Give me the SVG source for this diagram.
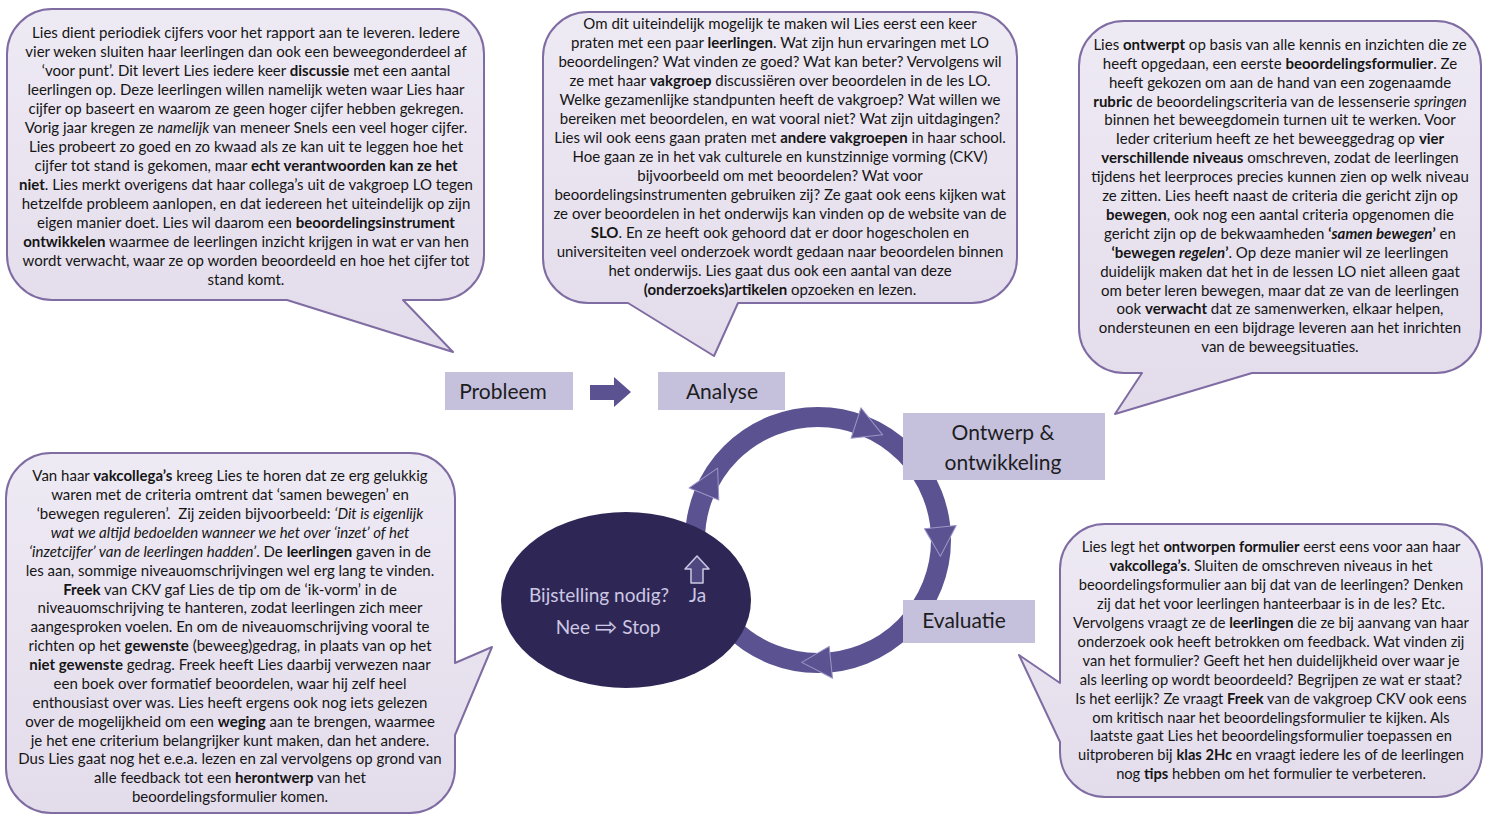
<svg xmlns="http://www.w3.org/2000/svg" width="1486" height="820" viewBox="0 0 1486 820">
<defs>
<linearGradient id="bub" x1="0" y1="0" x2="0" y2="1">
<stop offset="0" stop-color="#eeeaf4"/>
<stop offset="1" stop-color="#e3dceb"/>
</linearGradient>
<path id="head" d="M925,540 L957,540 L938,569 Z"/>
</defs>
<style>
.bubble{fill:url(#bub);stroke:#7f6ca2;stroke-width:2;stroke-linejoin:round}
.bt{font-family:Lato,"Liberation Sans",sans-serif;font-size:15px;fill:#151515;text-anchor:middle}
.b{font-weight:bold}
.i{font-style:italic}
.box{fill:#c5c1dd}
.lbl{font-family:Lato,"Liberation Sans",sans-serif;font-size:21px;fill:#1d1d1d;text-anchor:middle}
.ring{fill:none;stroke:#5b5391;stroke-width:20}
.hd{fill:#5b5391;stroke:#9d96c8;stroke-width:1;stroke-linejoin:round}
.et{font-family:Lato,"Liberation Sans",sans-serif;font-size:19px;fill:#cdc7e4}
</style>
<rect width="1486" height="820" fill="#ffffff"/>

<g id="bubble-probleem">
<path class="bubble" d="M52,9 H439 A45,45 0 0 1 484,54 V255 A45,45 0 0 1 439,300 H403 L453,352 L287,300 H52 A45,45 0 0 1 7,255 V54 A45,45 0 0 1 52,9 Z"/>
<text class="bt" x="246" y="38">Lies dient periodiek cijfers voor het rapport aan te leveren. Iedere</text>
<text class="bt" x="246" y="57">vier weken sluiten haar leerlingen dan ook een beweegonderdeel af</text>
<text class="bt" x="246" y="76">‘voor punt’. Dit levert Lies iedere keer <tspan class="b">discussie</tspan> met een aantal</text>
<text class="bt" x="246" y="95">leerlingen op. Deze leerlingen willen namelijk weten waar Lies haar</text>
<text class="bt" x="246" y="114">cijfer op baseert en waarom ze geen hoger cijfer hebben gekregen.</text>
<text class="bt" x="246" y="133">Vorig jaar kregen ze <tspan class="i">namelijk</tspan> van meneer Snels een veel hoger cijfer.</text>
<text class="bt" x="246" y="152">Lies probeert zo goed en zo kwaad als ze kan uit te leggen hoe het</text>
<text class="bt" x="246" y="171">cijfer tot stand is gekomen, maar <tspan class="b">echt verantwoorden kan ze het</tspan></text>
<text class="bt" x="246" y="190"><tspan class="b">niet</tspan>. Lies merkt overigens dat haar collega’s uit de vakgroep LO tegen</text>
<text class="bt" x="246" y="209">hetzelfde probleem aanlopen, en dat iedereen het uiteindelijk op zijn</text>
<text class="bt" x="246" y="228">eigen manier doet. Lies wil daarom een <tspan class="b">beoordelingsinstrument</tspan></text>
<text class="bt" x="246" y="247"><tspan class="b">ontwikkelen</tspan> waarmee de leerlingen inzicht krijgen in wat er van hen</text>
<text class="bt" x="246" y="266">wordt verwacht, waar ze op worden beoordeeld en hoe het cijfer tot</text>
<text class="bt" x="246" y="285">stand komt.</text>
</g>

<g id="bubble-analyse">
<path class="bubble" d="M588,12 H972 A45,45 0 0 1 1017,57 V258 A45,45 0 0 1 972,303 H738 L714,356 L628,303 H588 A45,45 0 0 1 543,258 V57 A45,45 0 0 1 588,12 Z"/>
<text class="bt" x="780" y="29">Om dit uiteindelijk mogelijk te maken wil Lies eerst een keer</text>
<text class="bt" x="780" y="48">praten met een paar <tspan class="b">leerlingen</tspan>. Wat zijn hun ervaringen met LO</text>
<text class="bt" x="780" y="67">beoordelingen? Wat vinden ze goed? Wat kan beter? Vervolgens wil</text>
<text class="bt" x="780" y="86">ze met haar <tspan class="b">vakgroep</tspan> discussiëren over beoordelen in de les LO.</text>
<text class="bt" x="780" y="105">Welke gezamenlijke standpunten heeft de vakgroep? Wat willen we</text>
<text class="bt" x="780" y="124">bereiken met beoordelen, en wat vooral niet? Wat zijn uitdagingen?</text>
<text class="bt" x="780" y="143">Lies wil ook eens gaan praten met <tspan class="b">andere vakgroepen</tspan> in haar school.</text>
<text class="bt" x="780" y="162">Hoe gaan ze in het vak culturele en kunstzinnige vorming (CKV)</text>
<text class="bt" x="780" y="181">bijvoorbeeld om met beoordelen? Wat voor</text>
<text class="bt" x="780" y="200">beoordelingsinstrumenten gebruiken zij? Ze gaat ook eens kijken wat</text>
<text class="bt" x="780" y="219">ze over beoordelen in het onderwijs kan vinden op de website van de</text>
<text class="bt" x="780" y="238"><tspan class="b">SLO</tspan>. En ze heeft ook gehoord dat er door hogescholen en</text>
<text class="bt" x="780" y="257">universiteiten veel onderzoek wordt gedaan naar beoordelen binnen</text>
<text class="bt" x="780" y="276">het onderwijs. Lies gaat dus ook een aantal van deze</text>
<text class="bt" x="780" y="295"><tspan class="b">(onderzoeks)artikelen</tspan> opzoeken en lezen.</text>
</g>

<g id="bubble-ontwerp">
<path class="bubble" d="M1124,21 H1436 A45,45 0 0 1 1481,66 V328 A45,45 0 0 1 1436,373 H1252 L1115,414 L1142,373 H1124 A45,45 0 0 1 1079,328 V66 A45,45 0 0 1 1124,21 Z"/>
<text class="bt" x="1280" y="50">Lies <tspan class="b">ontwerpt</tspan> op basis van alle kennis en inzichten die ze</text>
<text class="bt" x="1280" y="69">heeft opgedaan, een eerste <tspan class="b">beoordelingsformulier</tspan>. Ze</text>
<text class="bt" x="1280" y="88">heeft gekozen om aan de hand van een zogenaamde</text>
<text class="bt" x="1280" y="107"><tspan class="b">rubric</tspan> de beoordelingscriteria van de lessenserie <tspan class="i">springen</tspan></text>
<text class="bt" x="1280" y="125">binnen het beweegdomein turnen uit te werken. Voor</text>
<text class="bt" x="1280" y="144">Ieder criterium heeft ze het beweeggedrag op <tspan class="b">vier</tspan></text>
<text class="bt" x="1280" y="163"><tspan class="b">verschillende niveaus</tspan> omschreven, zodat de leerlingen</text>
<text class="bt" x="1280" y="182">tijdens het leerproces precies kunnen zien op welk niveau</text>
<text class="bt" x="1280" y="201">ze zitten. Lies heeft naast de criteria die gericht zijn op</text>
<text class="bt" x="1280" y="220"><tspan class="b">bewegen</tspan>, ook nog een aantal criteria opgenomen die</text>
<text class="bt" x="1280" y="239">gericht zijn op de bekwaamheden <tspan class="b">‘<tspan class="i">samen bewegen</tspan>’</tspan> en</text>
<text class="bt" x="1280" y="258"><tspan class="b">‘bewegen <tspan class="i">regelen</tspan>’</tspan>. Op deze manier wil ze leerlingen</text>
<text class="bt" x="1280" y="277">duidelijk maken dat het in de lessen LO niet alleen gaat</text>
<text class="bt" x="1280" y="296">om beter leren bewegen, maar dat ze van de leerlingen</text>
<text class="bt" x="1280" y="314">ook <tspan class="b">verwacht</tspan> dat ze samenwerken, elkaar helpen,</text>
<text class="bt" x="1280" y="333">ondersteunen en een bijdrage leveren aan het inrichten</text>
<text class="bt" x="1280" y="352">van de beweegsituaties.</text>
</g>

<g id="bubble-bijstelling">
<path class="bubble" d="M51,453 H410 A45,45 0 0 1 455,498 V663 L492,647 L455,735 V768 A45,45 0 0 1 410,813 H51 A45,45 0 0 1 6,768 V498 A45,45 0 0 1 51,453 Z"/>
<text class="bt" x="230" y="481">Van haar <tspan class="b">vakcollega’s</tspan> kreeg Lies te horen dat ze erg gelukkig</text>
<text class="bt" x="230" y="500">waren met de criteria omtrent dat ‘samen bewegen’ en</text>
<text class="bt" x="230" y="519" xml:space="preserve">‘bewegen reguleren’.  Zij zeiden bijvoorbeeld: <tspan class="i">‘Dit is eigenlijk</tspan></text>
<text class="bt" x="230" y="538"><tspan class="i">wat we altijd bedoelden wanneer we het over ‘inzet’ of het</tspan></text>
<text class="bt" x="230" y="557"><tspan class="i">‘inzetcijfer’ van de leerlingen hadden’</tspan>. De <tspan class="b">leerlingen</tspan> gaven in de</text>
<text class="bt" x="230" y="576">les aan, sommige niveauomschrijvingen wel erg lang te vinden.</text>
<text class="bt" x="230" y="595"><tspan class="b">Freek</tspan> van CKV gaf Lies de tip om de ‘ik-vorm’ in de</text>
<text class="bt" x="230" y="613">niveauomschrijving te hanteren, zodat leerlingen zich meer</text>
<text class="bt" x="230" y="632">aangesproken voelen. En om de niveauomschrijving vooral te</text>
<text class="bt" x="230" y="651">richten op het <tspan class="b">gewenste</tspan> (beweeg)gedrag, in plaats van op het</text>
<text class="bt" x="230" y="670"><tspan class="b">niet gewenste</tspan> gedrag. Freek heeft Lies daarbij verwezen naar</text>
<text class="bt" x="230" y="689">een boek over formatief beoordelen, waar hij zelf heel</text>
<text class="bt" x="230" y="708">enthousiast over was. Lies heeft ergens ook nog iets gelezen</text>
<text class="bt" x="230" y="727">over de mogelijkheid om een <tspan class="b">weging</tspan> aan te brengen, waarmee</text>
<text class="bt" x="230" y="746">je het ene criterium belangrijker kunt maken, dan het andere.</text>
<text class="bt" x="230" y="764">Dus Lies gaat nog het e.e.a. lezen en zal vervolgens op grond van</text>
<text class="bt" x="230" y="783">alle feedback tot een <tspan class="b">herontwerp</tspan> van het</text>
<text class="bt" x="230" y="802">beoordelingsformulier komen.</text>
</g>

<g id="bubble-evaluatie">
<path class="bubble" d="M1105,524 H1437 A45,45 0 0 1 1482,569 V752 A45,45 0 0 1 1437,797 H1105 A45,45 0 0 1 1060,752 V742 L1019,655 L1060,683 V569 A45,45 0 0 1 1105,524 Z"/>
<text class="bt" x="1271" y="552" style="font-size:14.7px">Lies legt het <tspan class="b">ontworpen formulier</tspan> eerst eens voor aan haar</text>
<text class="bt" x="1271" y="571" style="font-size:14.7px"><tspan class="b">vakcollega’s</tspan>. Sluiten de omschreven niveaus in het</text>
<text class="bt" x="1271" y="590" style="font-size:14.7px">beoordelingsformulier aan bij dat van de leerlingen? Denken</text>
<text class="bt" x="1271" y="609" style="font-size:14.7px">zij dat het voor leerlingen hanteerbaar is in de les? Etc.</text>
<text class="bt" x="1271" y="628" style="font-size:14.7px">Vervolgens vraagt ze de <tspan class="b">leerlingen</tspan> die ze bij aanvang van haar</text>
<text class="bt" x="1271" y="647" style="font-size:14.7px">onderzoek ook heeft betrokken om feedback. Wat vinden zij</text>
<text class="bt" x="1271" y="666" style="font-size:14.7px">van het formulier? Geeft het hen duidelijkheid over waar je</text>
<text class="bt" x="1271" y="685" style="font-size:14.7px">als leerling op wordt beoordeeld? Begrijpen ze wat er staat?</text>
<text class="bt" x="1271" y="704" style="font-size:14.7px">Is het eerlijk? Ze vraagt <tspan class="b">Freek</tspan> van de vakgroep CKV ook eens</text>
<text class="bt" x="1271" y="723" style="font-size:14.7px">om kritisch naar het beoordelingsformulier te kijken. Als</text>
<text class="bt" x="1271" y="741" style="font-size:14.7px">laatste gaat Lies het beoordelingsformulier toepassen en</text>
<text class="bt" x="1271" y="760" style="font-size:14.7px">uitproberen bij <tspan class="b">klas 2Hc</tspan> en vraagt iedere les of de leerlingen</text>
<text class="bt" x="1271" y="779" style="font-size:14.7px">nog <tspan class="b">tips</tspan> hebben om het formulier te verbeteren.</text>
</g>

<g id="connectors">
<path d="M590,385 H614 V377 L631,392 L614,407 V400 H590 Z" fill="#5b5391"/>
<circle class="ring" cx="818" cy="540" r="123"/>
<use href="#head" class="hd" transform="rotate(-72 818 540)"/>
<use href="#head" class="hd" transform="rotate(-6 818 540)"/>
<use href="#head" class="hd" transform="rotate(84 818 540)"/>
<use href="#head" class="hd" transform="rotate(202 818 540)"/>
</g>

<g id="node-probleem">
<rect class="box" x="445" y="372" width="128" height="38"/>
<text class="lbl" x="503" y="399">Probleem</text>
</g>
<g id="node-analyse">
<rect class="box" x="658" y="372" width="127" height="38"/>
<text class="lbl" x="722" y="399">Analyse</text>
</g>
<g id="node-ontwerp">
<rect class="box" x="903" y="413" width="202" height="67"/>
<text class="lbl" x="1003" y="440">Ontwerp &amp;</text>
<text class="lbl" x="1003" y="470">ontwikkeling</text>
</g>
<g id="node-evaluatie">
<rect class="box" x="903" y="600" width="132" height="43"/>
<text class="lbl" x="964" y="628">Evaluatie</text>
</g>
<g id="node-bijstelling">
<ellipse cx="626" cy="600" rx="125" ry="88" fill="#2e2756"/>
<polygon points="697,556 709,569 703,569 703,583 691,583 691,569 685,569" fill="#4f4780" stroke="#cdc7e4" stroke-width="1.5" stroke-linejoin="round"/>
<text class="et" x="529" y="602">Bijstelling nodig?</text>
<text class="et" x="689" y="602">Ja</text>
<text class="et" x="608" y="634" text-anchor="middle">Nee <tspan font-family="'DejaVu Sans',sans-serif" font-size="27" dy="2">⇨</tspan><tspan dy="-2"> Stop</tspan></text>
</g>
</svg>
